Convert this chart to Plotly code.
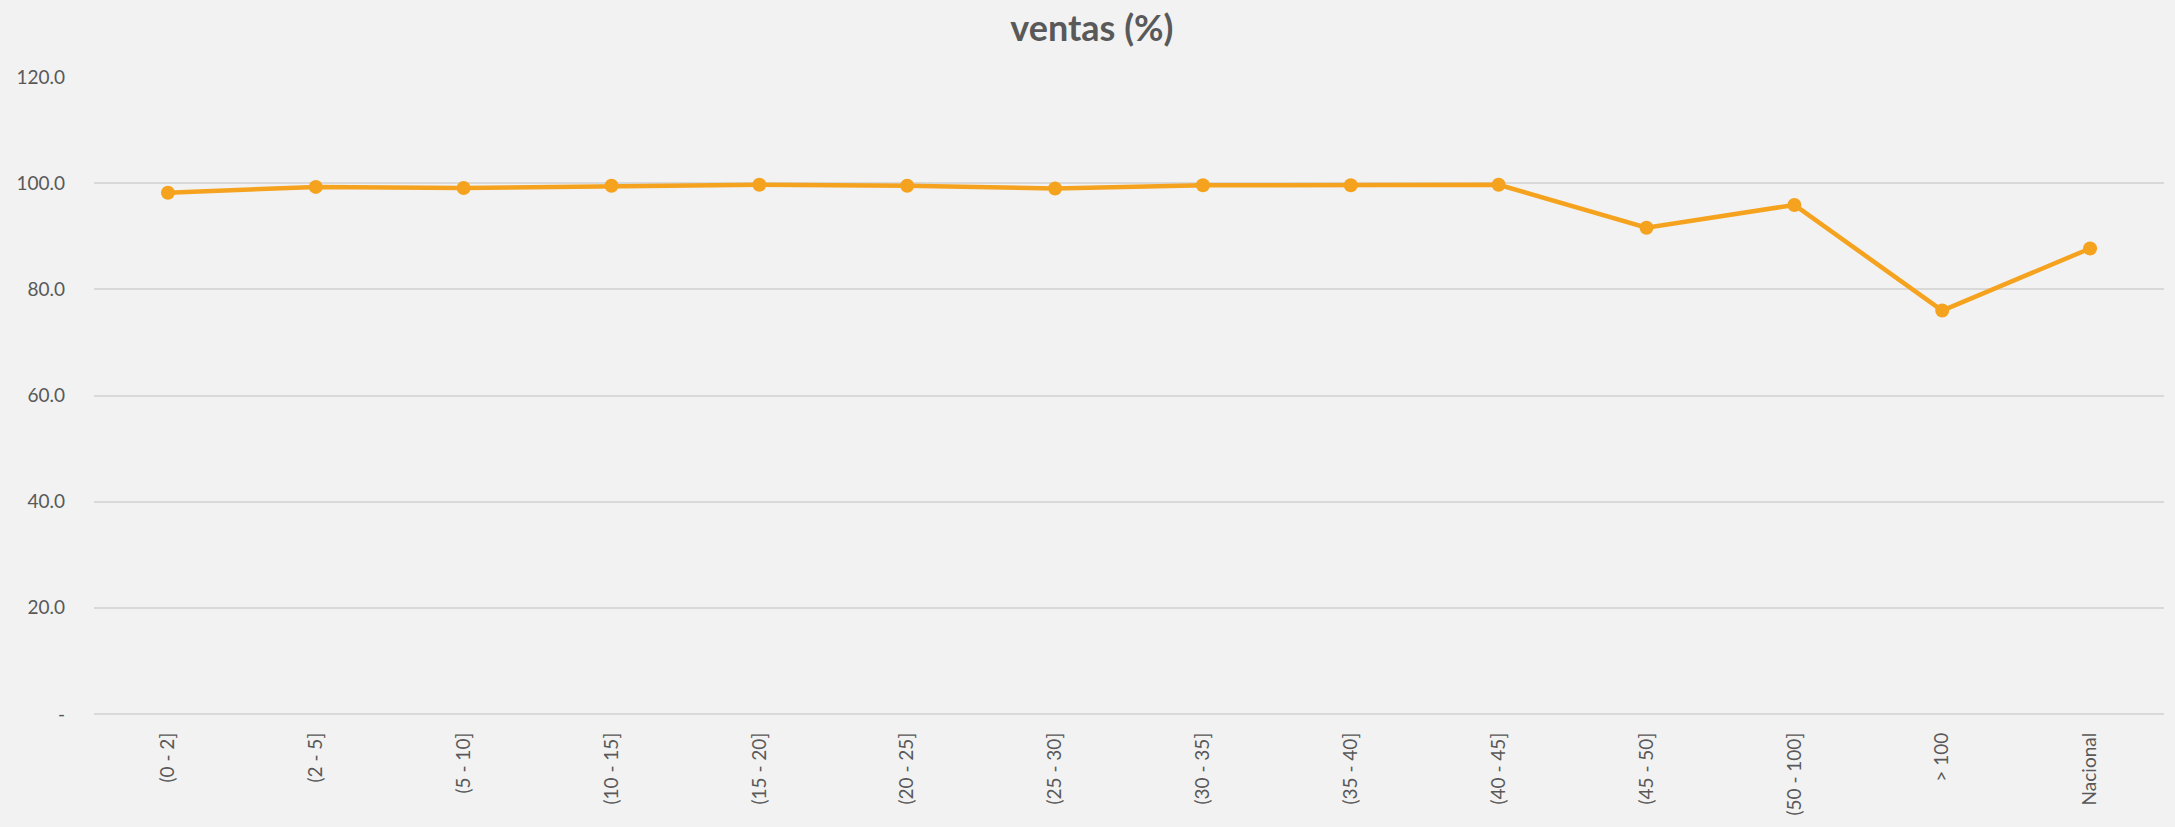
import plotly.graph_objects as go

categories = ["(0 - 2]", "(2 - 5]", "(5 - 10]", "(10 - 15]", "(15 - 20]", "(20 - 25]",
              "(25 - 30]", "(30 - 35]", "(35 - 40]", "(40 - 45]", "(45 - 50]",
              "(50 - 100]", "> 100", "Nacional"]
ventas = [98.2, 99.3, 99.1, 99.5, 99.7, 99.5, 99.0, 99.6, 99.6, 99.7, 91.6, 95.9, 76.0, 87.7]

y_tickvals = [0, 20, 40, 60, 80, 100, 120]
y_ticktext = ["-", "20.0", "40.0", "60.0", "80.0", "100.0", "120.0"]

LINE = "#F5A31F"
TXT = "#595959"
FONT = "Lato"

fig = go.Figure(go.Scatter(
    x=categories, y=ventas, mode="lines+markers",
    line=dict(color=LINE, width=4.5),
    marker=dict(color=LINE, size=14),
    hoverinfo="x+y",
))

fig.update_layout(
    width=2175, height=827,
    paper_bgcolor="#F2F2F2", plot_bgcolor="#F2F2F2",
    margin=dict(l=94, r=11, t=77, b=110),
    showlegend=False,
    title=dict(text="<b>ventas (%)</b>", x=0.502, xanchor="center", y=0.966, yanchor="middle",
               font=dict(family=FONT, size=36, color=TXT)),
    font=dict(family=FONT, color=TXT),
)
fig.update_xaxes(
    type="category", tickangle=-90, showgrid=False, showline=False, zeroline=False,
    tickfont=dict(family=FONT, size=19, color=TXT), ticks="", ticklen=0,
    ticklabelstandoff=14,
    range=[-0.5, len(categories) - 0.5],
)
fig.update_yaxes(
    range=[0, 120], tickvals=y_tickvals, ticktext=y_ticktext,
    showgrid=True, gridcolor="#D9D9D9", gridwidth=1.5,
    zeroline=True, zerolinecolor="#D9D9D9", zerolinewidth=1.5,
    showline=False, ticks="", ticklabelstandoff=28,
    tickfont=dict(family=FONT, size=19, color=TXT),
)

fig.write_html("out.html", config={"displayModeBar": False},
               post_script="document.body.style.margin='0';")
